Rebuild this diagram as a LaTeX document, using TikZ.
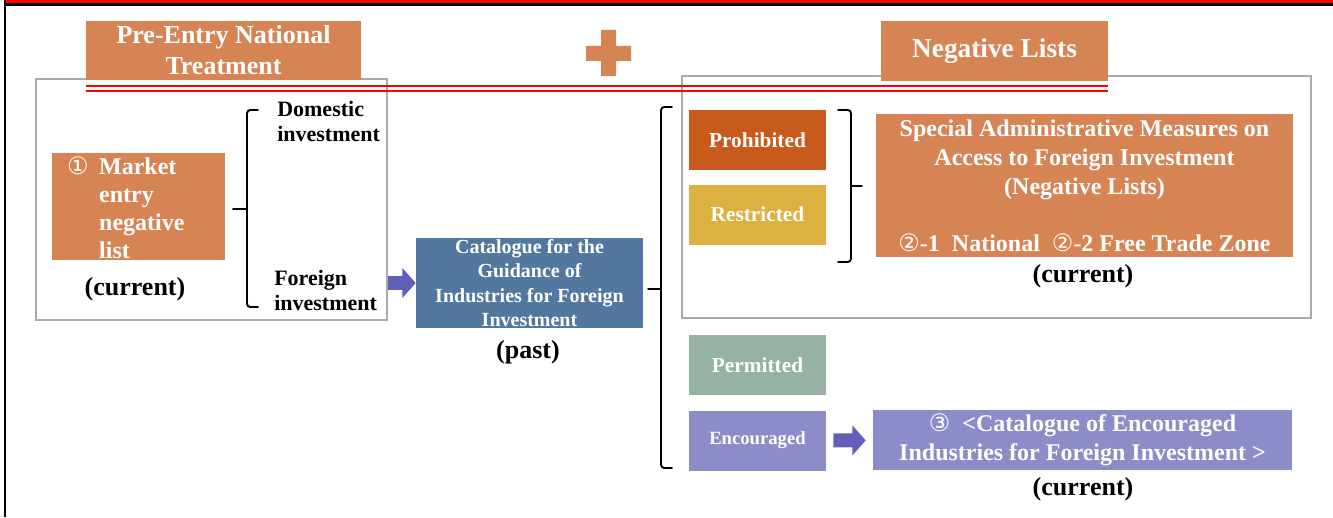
\documentclass[tikz,border=0pt]{standalone}
\usepackage{fontspec}
\setmainfont{Liberation Serif}
\newfontfamily\circfont{DejaVu Sans}
\usepackage{tikz}
\usetikzlibrary{arrows.meta, positioning, calc}
\definecolor{peach}{RGB}{215,132,85}
\definecolor{rust}{RGB}{200,90,28}
\definecolor{mustard}{RGB}{221,176,66}
\definecolor{steel}{RGB}{82,120,160}
\definecolor{sage}{RGB}{150,178,165}
\definecolor{lilac}{RGB}{140,140,200}
\definecolor{arrowblue}{RGB}{96,96,184}
\definecolor{framegray}{RGB}{170,170,170}
\definecolor{pagered}{RGB}{255,0,0}
\tikzset{
  frm/.style    ={rectangle, draw=framegray, line width=2.2pt, fill=white, inner sep=0pt},
  hbox/.style   ={rectangle, fill=peach, text=white, align=center, inner sep=0pt,
                  font=\bfseries\fontsize{19.5}{23.25}\selectfont},
  catbox/.style ={rectangle, text=white, align=center, inner sep=0pt,
                  minimum width=102.75pt, minimum height=45pt,
                  font=\bfseries\fontsize{16}{19}\selectfont},
  wbox/.style   ={rectangle, text=white, align=center, inner sep=0pt,
                  font=\bfseries\fontsize{18}{21.75}\selectfont},
  lbl/.style    ={inner sep=0pt, font=\bfseries\fontsize{19.5}{23}\selectfont},
  side/.style   ={inner sep=0pt, align=left, font=\bfseries\fontsize{16.5}{18.75}\selectfont},
  brc/.style    ={line width=1.4pt, rounded corners=2.5pt, line cap=round},
  fat/.style    ={arrowblue, line width=10.5pt,
                  -{Triangle[length=10pt 0 0, width=21.75pt 0 0]}},
  redrule/.style={pagered, line width=1.5pt},
}
\begin{document}
\begin{tikzpicture}[x=0.75pt, y=-0.75pt]
\useasboundingbox (0,0) rectangle (1333,517);
% page rule
\fill[pagered] (6,0) rectangle (1333,3.3);
\fill[black] (6,3.3) rectangle (1333,6);
\fill[black] (4,0) rectangle (6,517);

% frames
\node[frm, minimum width=263.25pt, minimum height=180.75pt] (lfrm) at (211.5,199.5) {};
\node[frm, minimum width=471.75pt, minimum height=181.5pt] (rfrm) at (996.5,197) {};

% headings
\node[hbox, minimum width=206.25pt, minimum height=44.25pt] (pre) at (223.5,50.5) {Pre-Entry National\\Treatment};
\node[hbox, minimum width=170.25pt, minimum height=45pt,
      font=\bfseries\fontsize{20.5}{24}\selectfont] (neg) at (994.5,51) {Negative Lists};
\fill[peach] (586,46) rectangle (631,61) (601,30) rectangle (616,76);
\draw[redrule] ($(pre.south west)+(0,6)$) -- ($(pre.south west -| neg.east)+(0,6)$);
\draw[redrule] ($(pre.south west)+(0,11)$) -- ($(pre.south west -| neg.east)+(0,11)$);

% left part
\node[hbox, minimum width=129.75pt, minimum height=80.25pt] (mkt) at (138.5,206.5) {};
\node[anchor=north west, inner sep=0pt, text=white, font=\bfseries\fontsize{18}{21}\selectfont]
  (mkttxt) at ([xshift=11.25pt,yshift=-1.5pt]mkt.north west)
  {\begin{tabular}{@{}l@{\hspace{8pt}}l@{}}{\circfont\mdseries ①} & Market\\ & entry\\ & negative\\ & list\end{tabular}};
\node[lbl] (cur1) at (135,289) {(current)};
\node[side, anchor=west] (dom) at (277,121) {Domestic\\investment};
\node[side, anchor=west] (fgn) at (274,290) {Foreign\\investment};
\coordinate (lbt) at (258,110);
\coordinate (lbb) at (258,307);
\draw[brc] (lbt) -| (247,209) -| (lbb -| 247,0) -- (lbb);
\draw[brc] (247,209) -- (233,209);

% past catalogue
\node[wbox, fill=steel, minimum width=170.25pt, minimum height=67.5pt,
      font=\bfseries\fontsize{15}{18.4}\selectfont] (cat) at (529.5,283)
  {Catalogue for the\\Guidance of\\Industries for Foreign\\Investment};
\node[lbl] (past) at (528,352) {(past)};
\draw[fat] (lfrm.east |- cat.west) -- (cat.west);
\coordinate (bbt) at (672,107);
\coordinate (bbb) at (672,468);
\draw[brc] (bbt) -- (661,107) -- (661,468) -- (bbb);
\draw[brc] (661,289) -- (648,289);

% categories
\node[catbox, fill=rust] (proh) at (757.5,140) {Prohibited};
\node[catbox, fill=mustard, below=10.5pt of proh] (rest) {Restricted};
\node[catbox, fill=sage] (perm) at (757.5,365) {Permitted};
\node[catbox, fill=lilac, below=11.25pt of perm, font=\bfseries\fontsize{14}{17}\selectfont] (enc) {Encouraged};
\coordinate (rbt) at (838,110);
\coordinate (rbb) at (838,262);
\draw[brc] (rbt) -- (851,110) -- (851,262) -- (rbb);
\draw[brc] (851,186) -- (862,186);

% current lists
\node[wbox, fill=peach, minimum width=312.75pt, minimum height=107.25pt] (spec) at (1084.5,185.5)
  {Special Administrative Measures on\\Access to Foreign Investment\\(Negative Lists)\\[21pt]
   {\circfont\mdseries ②}-1\ \ National\ \ {\circfont\mdseries ②}-2 Free Trade\ Zone};
\node[lbl] (cur2) at (1083,276) {(current)};
\node[wbox, fill=lilac, minimum width=314.25pt, minimum height=45pt] (cenc) at (1082.5,440)
  {{\circfont\mdseries ③}\ \ <Catalogue of Encouraged\\Industries for Foreign Investment >};
\node[lbl] (cur3) at (1083,489) {(current)};
\draw[fat, shorten <=5.25pt, shorten >=5.25pt] (enc) -- (cenc);
\end{tikzpicture}
\end{document}
